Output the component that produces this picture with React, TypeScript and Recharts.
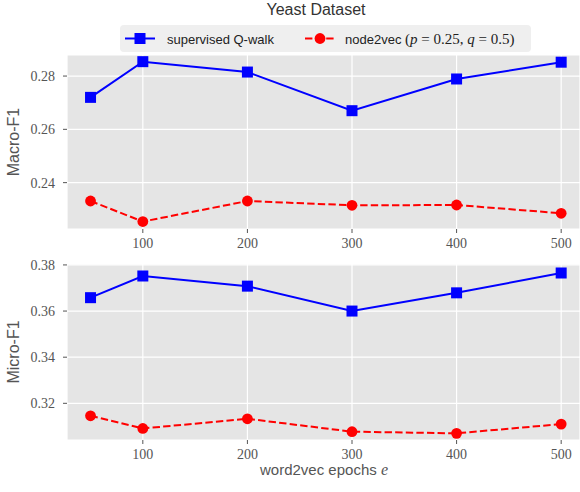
import React from 'react';
import { LineChart, Line, XAxis, YAxis, CartesianGrid } from 'recharts';

// word2vec epochs
const epochs = [50, 100, 200, 300, 400, 500];
const xTicks = [100, 200, 300, 400, 500];

// Macro-F1
const macroQwalk = [0.272, 0.2854, 0.2815, 0.267, 0.2789, 0.2852];
const macroNode2vec = [0.2331, 0.2254, 0.2331, 0.2315, 0.2316, 0.2285];
const macroTicks = [0.24, 0.26, 0.28];

// Micro-F1
const microQwalk = [0.3658, 0.3752, 0.3708, 0.36, 0.3679, 0.3765];
const microNode2vec = [0.3146, 0.3091, 0.3133, 0.3077, 0.307, 0.311];
const microTicks = [0.32, 0.34, 0.36, 0.38];

const SANS = '"Liberation Sans", Arial, sans-serif';
const SERIF = '"Liberation Serif", "DejaVu Serif", serif';
const BLUE = '#0000FF';
const RED = '#FF0000';
const TEXT = '#555555';

const macroData = epochs.map((e, i) => ({ epoch: e, qwalk: macroQwalk[i], node2vec: macroNode2vec[i] }));
const microData = epochs.map((e, i) => ({ epoch: e, qwalk: microQwalk[i], node2vec: microNode2vec[i] }));

const SquareDot = (props: any) => {
  const { cx, cy, index } = props;
  if (cx == null || cy == null) return null;
  return <rect key={`sq-${index}`} x={cx - 5.5} y={cy - 5.5} width={11} height={11} fill={BLUE} />;
};

const CircleDot = (props: any) => {
  const { cx, cy, index } = props;
  if (cx == null || cy == null) return null;
  return <circle key={`ci-${index}`} cx={cx} cy={cy} r={5.4} fill={RED} />;
};

interface PanelProps {
  data: any[];
  height: number;
  marginTop: number;
  xAxisHeight: number;
  yDomain: [number, number];
  yTicks: number[];
}

const Panel: React.FC<PanelProps> = ({ data, height, marginTop, xAxisHeight, yDomain, yTicks }) => (
  <LineChart width={580} height={height} data={data} margin={{ top: marginTop, right: 0, bottom: 0, left: 0 }}>
    <CartesianGrid stroke="#ffffff" strokeWidth={1.2} fill="#E5E5E5" fillOpacity={1} />
    <XAxis
      dataKey="epoch"
      type="number"
      domain={[27.5, 518]}
      ticks={xTicks}
      allowDataOverflow
      height={xAxisHeight}
      axisLine={false}
      tickSize={4}
      tickMargin={5}
      tickLine={{ stroke: TEXT }}
      tick={{ fill: TEXT, fontSize: 14, fontFamily: SERIF }}
    />
    <YAxis
      type="number"
      domain={yDomain}
      ticks={yTicks}
      allowDataOverflow
      width={67}
      axisLine={false}
      tickSize={4}
      tickMargin={8}
      tickLine={{ stroke: TEXT }}
      tick={{ fill: TEXT, fontSize: 14, fontFamily: SERIF }}
      tickFormatter={(v: number) => v.toFixed(2)}
    />
    <Line
      type="linear"
      dataKey="qwalk"
      stroke={BLUE}
      strokeWidth={2}
      dot={SquareDot}
      activeDot={false}
      isAnimationActive={false}
    />
    <Line
      type="linear"
      dataKey="node2vec"
      stroke={RED}
      strokeWidth={2}
      strokeDasharray="7.4 3.2"
      dot={CircleDot}
      activeDot={false}
      isAnimationActive={false}
    />
  </LineChart>
);

const rotated = (left: number, top: number): React.CSSProperties => ({
  position: 'absolute',
  left,
  top,
  transform: 'translate(-50%, -50%) rotate(-90deg)',
  fontFamily: SANS,
  fontSize: 16,
  color: TEXT,
  whiteSpace: 'nowrap',
});

export default function App() {
  return (
    <div style={{ position: 'absolute', left: 0, top: 0, width: 580, height: 492, background: '#fff', overflow: 'hidden' }}>
      <div
        style={{
          position: 'absolute',
          left: 316,
          top: 10,
          transform: 'translate(-50%, -50%)',
          fontFamily: SANS,
          fontSize: 16,
          color: '#333',
          whiteSpace: 'nowrap',
        }}
      >
        Yeast Dataset
      </div>

      <div style={{ position: 'absolute', left: 0, top: 0 }}>
        <Panel data={macroData} height={260} marginTop={55} xAxisHeight={31} yDomain={[0.2226, 0.2879]} yTicks={macroTicks} />
      </div>
      <div style={{ position: 'absolute', left: 0, top: 250 }}>
        <Panel data={microData} height={242} marginTop={14} xAxisHeight={52} yDomain={[0.3041, 0.3804]} yTicks={microTicks} />
      </div>

      {/* legend */}
      <div
        style={{
          position: 'absolute',
          left: 120,
          top: 25,
          width: 411,
          height: 27,
          background: '#EFEFEF',
          borderRadius: 4,
          fontFamily: SANS,
          fontSize: 13,
          color: '#222',
        }}
      >
        <svg style={{ position: 'absolute', left: 5, top: 7 }} width={30} height={13}>
          <line x1={0} y1={6.5} x2={30} y2={6.5} stroke={BLUE} strokeWidth={2} />
          <rect x={9.5} y={1} width={11} height={11} fill={BLUE} />
        </svg>
        <div style={{ position: 'absolute', left: 47, top: 13.5, transform: 'translateY(-50%)', whiteSpace: 'nowrap' }}>
          supervised Q-walk
        </div>
        <svg style={{ position: 'absolute', left: 185, top: 7 }} width={30} height={13}>
          <line x1={0} y1={6.5} x2={30} y2={6.5} stroke={RED} strokeWidth={2} strokeDasharray="7.4 3.2" />
          <circle cx={15} cy={6.5} r={5.4} fill={RED} />
        </svg>
        <div style={{ position: 'absolute', left: 225, top: 13.5, transform: 'translateY(-50%)', whiteSpace: 'nowrap' }}>
          node2vec{' '}
          <span style={{ fontFamily: SERIF, fontSize: 15 }}>
            (<i>p</i>&nbsp;=&nbsp;0.25, <i>q</i>&nbsp;=&nbsp;0.5)
          </span>
        </div>
      </div>

      <div style={rotated(14, 142)}>Macro-F1</div>
      <div style={rotated(14, 352)}>Micro-F1</div>

      <div
        style={{
          position: 'absolute',
          left: 324,
          top: 470,
          transform: 'translate(-50%, -50%)',
          fontFamily: SANS,
          fontSize: 15,
          lineHeight: 1,
          color: TEXT,
          whiteSpace: 'nowrap',
        }}
      >
        word2vec epochs <i style={{ fontFamily: SERIF, fontSize: 16, lineHeight: 1 }}>e</i>
      </div>
    </div>
  );
}
